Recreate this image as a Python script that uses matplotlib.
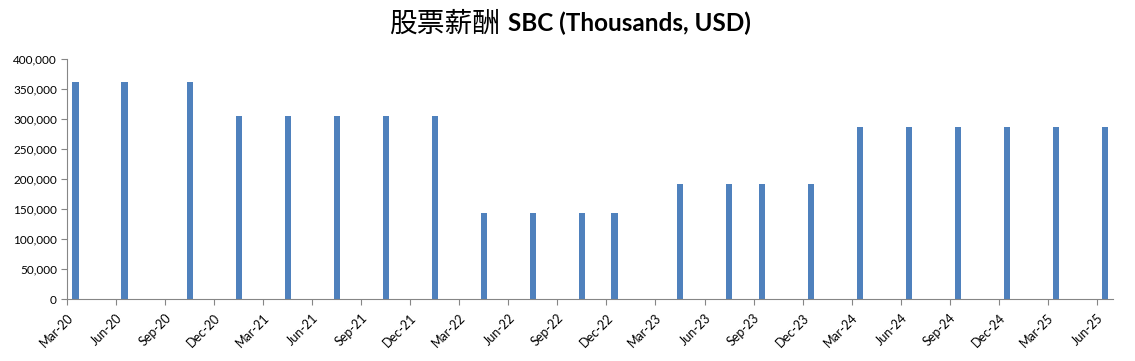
import pandas as pd
import matplotlib
matplotlib.use("Agg")
import matplotlib.pyplot as plt
from matplotlib.ticker import FuncFormatter

# =========================
# DATA
# =========================
periods = ["2020-03", "2020-06", "2020-10", "2021-01", "2021-04", "2021-07",
           "2021-10", "2022-01", "2022-04", "2022-07", "2022-10", "2022-12",
           "2023-04", "2023-07", "2023-09", "2023-12", "2024-03", "2024-06",
           "2024-09", "2024-12", "2025-03", "2025-06"]
sbc = [361000, 361000, 361000, 305000, 305000, 305000,
       305000, 305000, 143000, 143000, 143000, 143000,
       192000, 192000, 192000, 192000, 287000, 287000,
       287000, 287000, 287000, 287000]

axis_start = "2020-03"
axis_end = "2025-07"

# =========================
# MONTH POSITIONS
# =========================
p = pd.PeriodIndex(periods, freq="M")
start = pd.Period(axis_start, freq="M")
end = pd.Period(axis_end, freq="M")
months = [(x - start).n for x in p]
n_months = (end - start).n

tick_pos = list(range(0, n_months, 3))
tick_lab = [(start + t).strftime("%b-%y") for t in tick_pos]

# =========================
# PLOT
# =========================
fig = plt.figure(figsize=(11.35, 3.61), dpi=100)
ax = fig.add_axes([0.0593, 0.1717, 0.9213, 0.665])

ax.bar([m + 0.5 for m in months], sbc, width=0.39, color="#4F81BD")

ax.set_xlim(0, n_months)
ax.set_ylim(0, 400000)
ax.set_yticks(range(0, 400001, 50000))
ax.yaxis.set_major_formatter(FuncFormatter(lambda v, _: f"{int(v):,}"))
ax.set_xticks(tick_pos)
ax.set_xticklabels(tick_lab, rotation=45, ha="right", rotation_mode="anchor")

for s in ["top", "right"]:
    ax.spines[s].set_visible(False)
for s in ["left", "bottom"]:
    ax.spines[s].set_color("#868686")
ax.tick_params(axis="both", color="#868686", length=4, labelsize=8.5,
               labelcolor="black")
ax.tick_params(axis="x", labelsize=9, pad=5)
for lab in ax.get_xticklabels() + ax.get_yticklabels():
    lab.set_family("Lato")

fig.text(0.4405, 0.935, "股票薪酬", family=["Noto Sans CJK SC"], fontsize=20,
         ha="right", va="center")
fig.text(0.4475, 0.935, "SBC (Thousands, USD)", family="Lato", fontsize=17.5,
         fontweight="bold", ha="left", va="center")

fig.savefig("out.png", dpi=100)
